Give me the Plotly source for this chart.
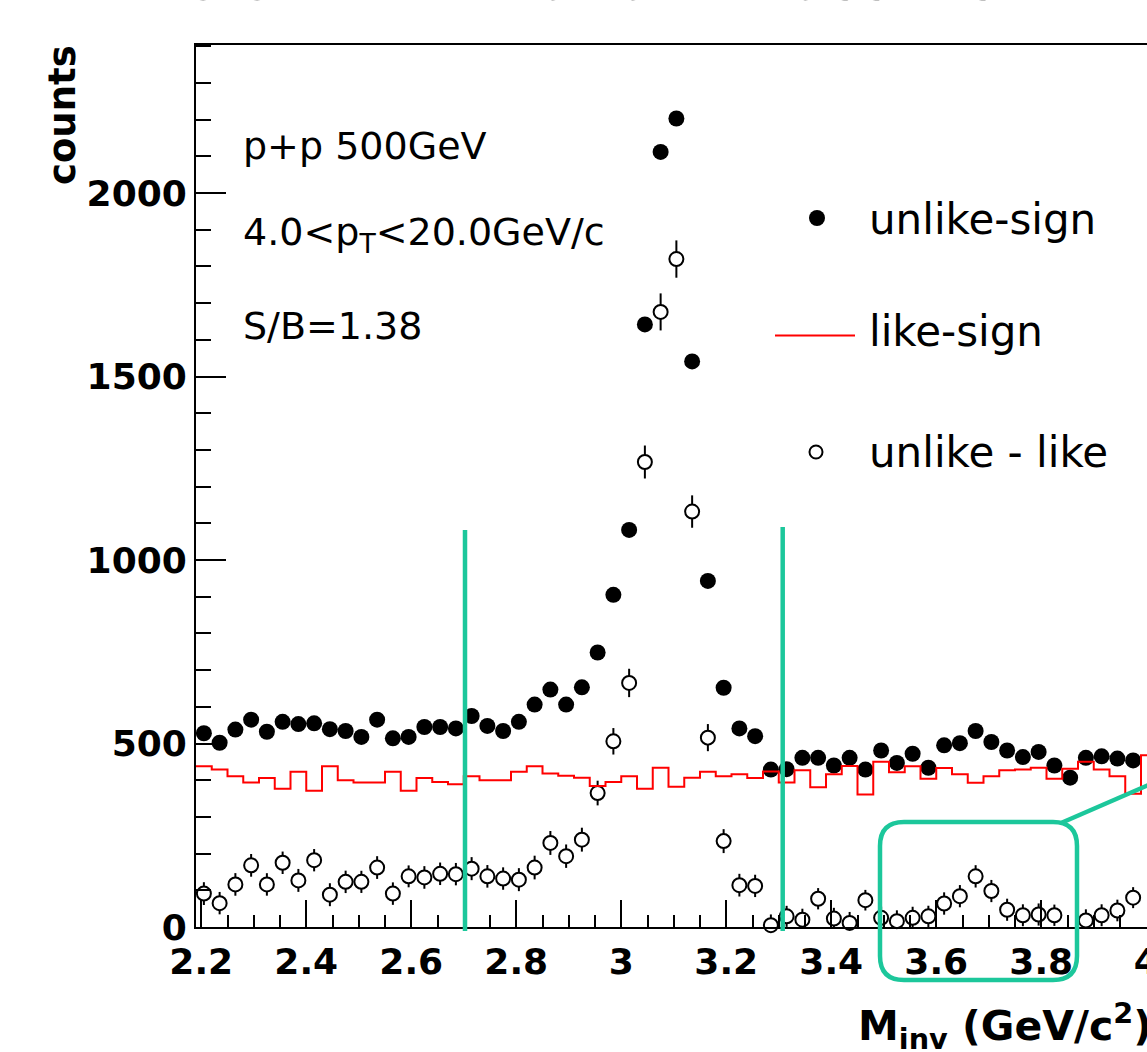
import numpy as np
import plotly.graph_objects as go

# ---------------- data ----------------
bin_low = 2.19
bin_width = 0.03
n_bins = 61

unlike_sign = [528, 502, 538, 565, 532, 559, 553, 555, 539, 534,
               518, 565, 514, 518, 545, 545, 541, 575, 548, 534,
               559, 606, 647, 606, 653, 748, 905, 1082, 1642, 2112,
               2203, 1541, 943, 652, 541, 520, 429, 430, 461, 461,
               440, 461, 429, 481, 447, 472, 434, 495, 501, 534,
               504, 481, 463, 477, 440, 407, 461, 465, 459, 454,
               486]

like_sign = [438, 429, 411, 394, 406, 377, 423, 371, 438, 400,
             394, 394, 423, 371, 406, 395, 389, 411, 400, 400,
             423, 438, 418, 412, 407, 384, 395, 411, 377, 434,
             382, 407, 423, 411, 416, 406, 424, 394, 427, 381,
             416, 439, 361, 450, 422, 438, 404, 433, 416, 393,
             411, 427, 429, 434, 404, 431, 450, 429, 411, 363,
             468]

unlike_minus_like = [91, 65, 116, 168, 116, 175, 127, 182, 88, 123,
                     123, 162, 91, 138, 135, 145, 144, 159, 138, 132,
                     129, 162, 229, 193, 238, 365, 506, 665, 1267, 1676,
                     1820, 1132, 516, 234, 114, 112, 5, 29, 20, 77,
                     23, 11, 73, 25, 16, 25, 29, 64, 84, 138,
                     98, 47, 32, 34, 32, None, 18, 32, 45, 80,
                     8]

x_ticks_major = 0.2
y_ticks_major = 500

# derived axis quantities
centers = [round(bin_low + bin_width * (k + 0.5), 4) for k in range(n_bins)]
edges = [round(bin_low + bin_width * k, 4) for k in range(n_bins + 1)]
like_steps = like_sign + [like_sign[-1]]
errors = [None if d is None else float(np.sqrt(u + l))
          for u, l, d in zip(unlike_sign, like_sign, unlike_minus_like)]

# ---------------- geometry helpers ----------------
W, H = 1147, 1052
L, T, B = 196, 45, 927
PW, PH = W - L, B - T
x_max = bin_low + PW / 525.0
y_max = PH / 0.367


def px(p):
    return (p - L) / PW


def py(p):
    return (B - p) / PH


GREEN = "#1cc79b"
FONT = "DejaVu Sans"

fig = go.Figure()

fig.add_trace(go.Scatter(
    x=centers, y=unlike_sign, mode="markers", name="unlike-sign",
    marker=dict(symbol="circle", size=16, color="black"),
    cliponaxis=False, showlegend=False))

fig.add_trace(go.Scatter(
    x=centers, y=unlike_minus_like, mode="markers", name="unlike - like",
    marker=dict(symbol="circle", size=14, color="white",
                line=dict(color="black", width=2)),
    error_y=dict(type="data", array=errors, color="black",
                 thickness=2, width=0),
    cliponaxis=False, showlegend=False))

fig.add_trace(go.Scatter(
    x=edges, y=like_steps, mode="lines", name="like-sign",
    line=dict(color="red", width=2, shape="hv"), showlegend=False))

tickfont = dict(family=FONT, size=36, color="black", weight="bold")

fig.update_layout(
    template="none",
    width=W, height=H, autosize=False,
    margin=dict(l=L, r=0, t=T, b=H - B, pad=0, autoexpand=False),
    paper_bgcolor="white", plot_bgcolor="white",
    xaxis=dict(range=[bin_low, x_max], automargin=False,
               showline=True, linewidth=2,
               linecolor="black", mirror=True, ticks="inside",
               ticklen=27, tickwidth=2, tickcolor="black",
               tick0=2.2, dtick=x_ticks_major, tickfont=tickfont,
               showgrid=False, zeroline=False, ticklabeloverflow="allow",
               ticklabelstandoff=2,
               minor=dict(dtick=0.05, ticklen=12, tickwidth=2,
                          tickcolor="black", ticks="inside",
                          showgrid=False)),
    yaxis=dict(range=[0, y_max], automargin=False,
               showline=True, linewidth=2,
               linecolor="black", mirror=False, ticks="inside",
               ticklen=30, tickwidth=2, tickcolor="black",
               tick0=0, dtick=y_ticks_major, tickformat="d",
               tickfont=tickfont, showgrid=False, zeroline=False,
               ticklabelstandoff=0,
               minor=dict(dtick=100, ticklen=15, tickwidth=2,
                          tickcolor="black", ticks="inside",
                          showgrid=False)),
)

ann = []


def text(s, xp, yp, size, bold=False, xanchor="left", angle=0):
    ann.append(dict(text=s, x=px(xp), y=py(yp), xref="paper", yref="paper",
                    xanchor=xanchor, yanchor="middle", showarrow=False,
                    textangle=angle,
                    font=dict(family=FONT, size=size, color="black",
                              weight="bold" if bold else "normal")))


# title (cut by the top of the picture)
text("Dielectron invariant mass distribution", 120, -20, 53, bold=True)
# axis titles
text("counts", 62, 115, 37, bold=True, xanchor="center", angle=-90)
text("M<sub>inv</sub> (GeV/c<sup>2</sup>)", 856, 1026, 41, bold=True)
# pad texts
text("p+p 500GeV", 241, 146, 38)
text("4.0&lt;p<sub>T</sub>&lt;20.0GeV/c", 241, 235, 38)
text("S/B=1.38", 241, 326, 38)
# legend texts
text("unlike-sign", 867, 219, 42)
text("like-sign", 867, 332, 42)
text("unlike - like", 867, 453, 42)

shapes = []
# legend symbols
r = 8
shapes.append(dict(type="circle", xref="paper", yref="paper",
                   x0=px(817 - r), x1=px(817 + r), y0=py(218 + r), y1=py(218 - r),
                   fillcolor="black", line=dict(color="black", width=0)))
shapes.append(dict(type="line", xref="paper", yref="paper",
                   x0=px(775), x1=px(855), y0=py(335.5), y1=py(335.5),
                   line=dict(color="red", width=2)))
r2 = 6.5
shapes.append(dict(type="circle", xref="paper", yref="paper",
                   x0=px(816 - r2), x1=px(816 + r2), y0=py(452 + r2), y1=py(452 - r2),
                   fillcolor="white", line=dict(color="black", width=2)))

# green hand annotations
for xl, ytop in [(465, 530), (782.7, 527)]:
    shapes.append(dict(type="line", xref="paper", yref="paper",
                       x0=px(xl), x1=px(xl), y0=py(ytop), y1=py(931),
                       line=dict(color=GREEN, width=4.5)))

x0, x1, y0, y1, rr = 880, 1077, 822, 980, 24


def P(a, b):
    return f"{px(a):.5f},{py(b):.5f}"


path = (f"M{P(x0 + rr, y0)} L{P(x1 - rr, y0)} Q{P(x1, y0)} {P(x1, y0 + rr)} "
        f"L{P(x1, y1 - rr)} Q{P(x1, y1)} {P(x1 - rr, y1)} "
        f"L{P(x0 + rr, y1)} Q{P(x0, y1)} {P(x0, y1 - rr)} "
        f"L{P(x0, y0 + rr)} Q{P(x0, y0)} {P(x0 + rr, y0)} Z")
shapes.append(dict(type="path", xref="paper", yref="paper", path=path,
                   line=dict(color=GREEN, width=4.5)))
shapes.append(dict(type="line", xref="paper", yref="paper",
                   x0=px(1061), y0=py(823), x1=px(1152), y1=py(783.5),
                   line=dict(color=GREEN, width=4.5)))

fig.update_layout(annotations=ann, shapes=shapes)

fig.write_html("out.html", config={"displayModeBar": False, "responsive": False})
